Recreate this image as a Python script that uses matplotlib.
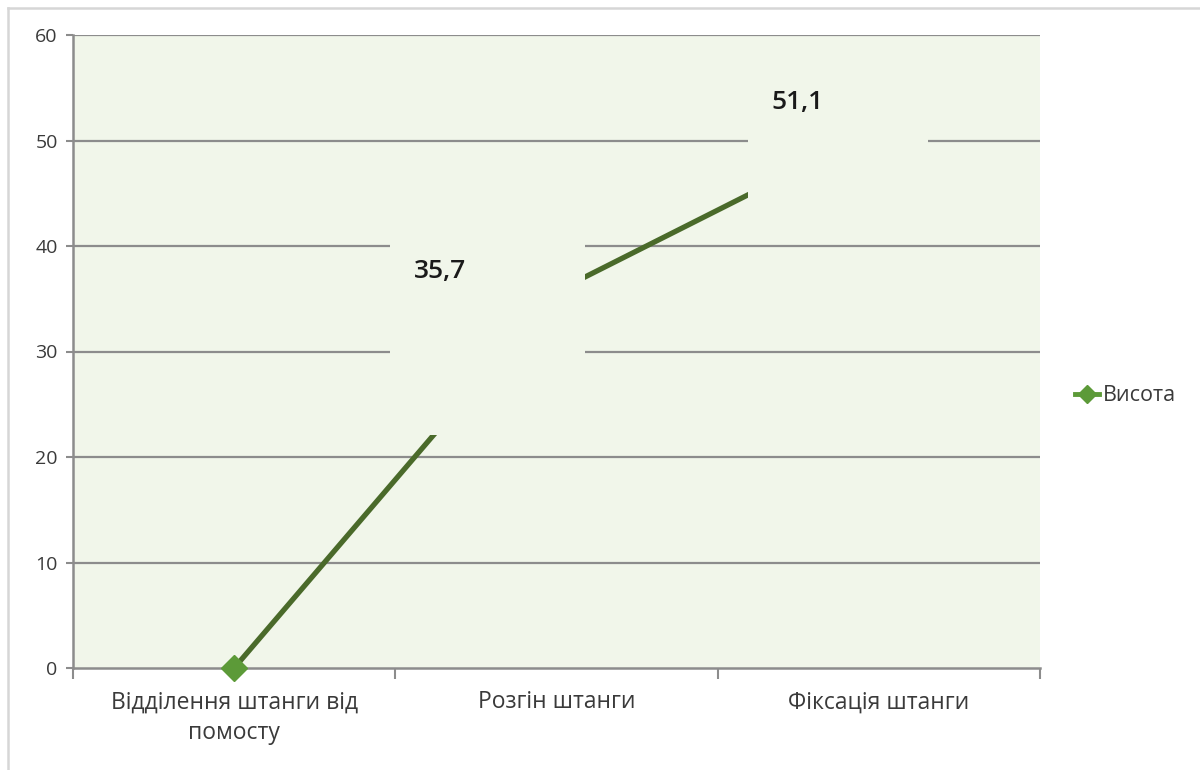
import matplotlib
matplotlib.use("Agg")
import matplotlib.pyplot as plt
from matplotlib.patches import Rectangle
from matplotlib.lines import Line2D

plt.rcParams['font.family'] = ['Open Sans', 'DejaVu Sans']

categories = ["Відділення штанги від\nпомосту", "Розгін штанги", "Фіксація штанги"]
heights = [0, 35.7, 51.1]
value_labels = ["0", "35,7", "51,1"]
series_name = "Висота"
y_ticks = [0, 10, 20, 30, 40, 50, 60]

plot_bg = "#f1f6ea"
line_color = "#4a6a2a"
marker_color = "#5c9a38"
grid_color = "#8c8c8c"
text_color = "#3a3a3a"

fig = plt.figure(figsize=(12, 7.7), dpi=100)
ax = fig.add_axes([73 / 1200, 1 - 668 / 770, (1040 - 73) / 1200, (668 - 35) / 770])
ax.set_facecolor(plot_bg)

x = list(range(len(categories)))
ax.set_xlim(-0.5, len(categories) - 0.5)
ax.set_ylim(0, 60)

# horizontal gridlines
for yv in y_ticks[1:]:
    ax.axhline(yv, color=grid_color, lw=1.6, zorder=1)

ax.plot(x, heights, color=line_color, lw=3.8, zorder=2, solid_capstyle='butt')
ax.plot(x, heights, ls='none', marker='D', ms=13, color=marker_color,
        markeredgecolor=marker_color, zorder=5, clip_on=False)

# label panels (filled with the plot colour) placed around each labelled point
panels = {1: (-0.516, -13.6, 0.605, 20.9), 2: (-0.406, -9.1, 0.559, 16.0)}
offsets = {1: (-116, 20), 2: (-81, 26)}
for i, (dx, dy, w, h) in panels.items():
    ax.add_patch(Rectangle((x[i] + dx, heights[i] + dy), w, h,
                           facecolor=plot_bg, edgecolor='none', zorder=6))
    ax.annotate(value_labels[i], xy=(x[i], heights[i]), xytext=offsets[i],
                textcoords='offset pixels', ha='center', va='center',
                fontsize=19, fontweight='semibold', color='#1a1a1a', zorder=7)

# axes styling
for side in ('top', 'right'):
    ax.spines[side].set_visible(False)
for side in ('left', 'bottom'):
    ax.spines[side].set_color(grid_color)
    ax.spines[side].set_linewidth(1.8)
    ax.spines[side].set_zorder(3)

ax.set_yticks(y_ticks)
ax.set_yticklabels([str(v) for v in y_ticks])
ax.tick_params(axis='y', length=5, width=1.5, color=grid_color, labelsize=14,
               labelcolor=text_color, pad=6)

ax.set_xticks([i - 0.5 for i in range(len(categories) + 1)])
ax.set_xticklabels([])
ax.tick_params(axis='x', which='major', length=8, width=1.5, color=grid_color)
ax.set_xticks(x, minor=True)
ax.set_xticklabels(categories, minor=True, linespacing=1.4)
ax.tick_params(axis='x', which='minor', length=0, labelsize=16.5,
               labelcolor=text_color, pad=16)

# legend
handle = Line2D([], [], color=marker_color, lw=3.5, marker='D', ms=9)
fig.legend([handle], [series_name], loc='center left',
           bbox_to_anchor=(1056 / 1200, 1 - 396 / 770), frameon=False,
           fontsize=15.5, handlelength=1.1, handletextpad=0.2,
           labelcolor=text_color)

# outer chart border (top and left edges)
fig.add_artist(Line2D([8 / 1200, 1], [1 - 8 / 770, 1 - 8 / 770],
                      transform=fig.transFigure, color='#d6d6d6', lw=1.8))
fig.add_artist(Line2D([8 / 1200, 8 / 1200], [0, 1 - 8 / 770],
                      transform=fig.transFigure, color='#d6d6d6', lw=1.8))

fig.savefig("out.png", dpi=100, facecolor='white')
